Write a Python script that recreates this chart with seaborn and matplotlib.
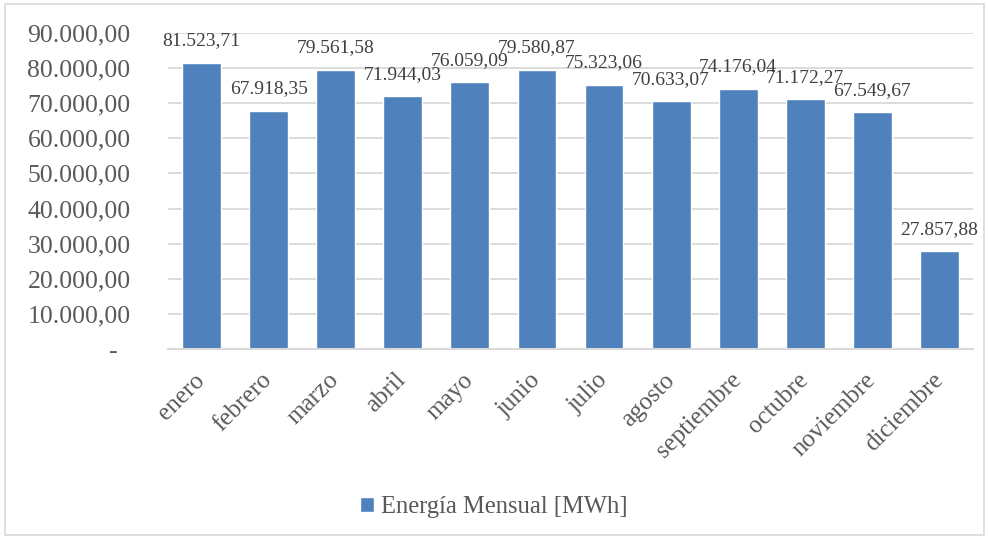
import matplotlib
matplotlib.use("Agg")
import matplotlib.pyplot as plt
import pandas as pd
import seaborn as sns
from matplotlib.patches import Rectangle
from matplotlib.ticker import FuncFormatter

months = ["enero", "febrero", "marzo", "abril", "mayo", "junio", "julio",
          "agosto", "septiembre", "octubre", "noviembre", "diciembre"]
energy = [81523.71, 67918.35, 79561.58, 71944.03, 76059.09, 79580.87,
          75323.06, 70633.07, 74176.04, 71172.27, 67549.67, 27857.88]
series_name = "Energía Mensual [MWh]"

BLUE = "#4F81BD"
TEXT = "#595959"
GRID = "#D9D9D9"


def es_fmt(v):
    # Spanish number format: 81.523,71
    s = f"{v:,.2f}"
    return s.replace(",", "X").replace(".", ",").replace("X", ".")


df = pd.DataFrame({"mes": months, "energia": energy})

sns.set_theme(style="white")
plt.rcParams["font.family"] = ["Liberation Serif", "DejaVu Serif"]
plt.rcParams["text.color"] = TEXT

fig = plt.figure(figsize=(9.88, 5.39), dpi=100)
ax = fig.add_axes([168 / 988, 1 - 349 / 539, 805 / 988, 316 / 539])

sns.barplot(data=df, x="mes", y="energia", color=BLUE, saturation=1,
            width=0.58, label=series_name, ax=ax)

# data labels
for i, v in enumerate(energy):
    ax.annotate(es_fmt(v), xy=(i, v), xytext=(0, 9.5), textcoords="offset points",
                ha="center", va="bottom", fontsize=14, color="#404040")

ax.set_ylim(0, 90000)
ax.set_yticks(range(0, 90001, 10000))
ax.yaxis.set_major_formatter(FuncFormatter(
    lambda v, p: "-  " if v == 0 else es_fmt(v)))
ax.tick_params(axis="y", length=0, pad=27, labelsize=18.5, labelcolor=TEXT)
ax.tick_params(axis="x", length=0, pad=20, labelsize=18, labelcolor=TEXT)
for lab in ax.get_xticklabels():
    lab.set_rotation(45)
    lab.set_ha("right")
    lab.set_va("center")
    lab.set_rotation_mode("anchor")

ax.set_xlabel("")
ax.set_ylabel("")
ax.grid(axis="y", color=GRID, lw=1.3)
ax.set_axisbelow(True)
for side in ["top", "right", "left"]:
    ax.spines[side].set_visible(False)
ax.spines["bottom"].set_color(GRID)
ax.spines["bottom"].set_linewidth(1.5)

ax.legend(loc="center", bbox_to_anchor=(0.5, 1 - 507 / 539),
          bbox_transform=fig.transFigure, frameon=False, fontsize=17.7,
          handlelength=0.55, handleheight=0.55, handletextpad=0.3,
          labelcolor=TEXT)

# chart border
fig.patches.append(Rectangle((5 / 988, 4 / 539), 979 / 988, 531 / 539,
                             transform=fig.transFigure, fill=False,
                             edgecolor=GRID, lw=1.2))

fig.savefig("out.png", dpi=100)
